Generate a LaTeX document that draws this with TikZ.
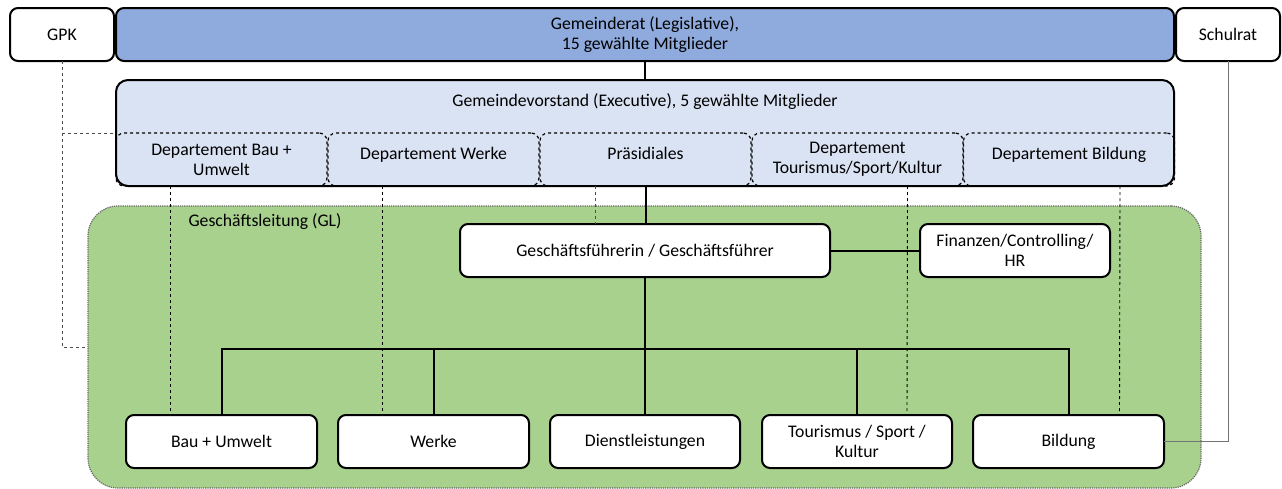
\documentclass[tikz,border=0pt]{standalone}
\usepackage{fontspec}
\setmainfont{Carlito}
\usetikzlibrary{positioning}
\definecolor{ratblue}{HTML}{8FAADC}
\definecolor{vorstblue}{HTML}{DAE3F3}
\definecolor{glgreen}{HTML}{A9D18E}

\begin{document}
\begin{tikzpicture}[%
    x=1pt, y=-1pt,
    font=\fontsize{17.7}{20}\selectfont,
    box/.style={draw, line width=2pt, rounded corners=8pt, fill=white, align=center,
                minimum height=53pt, inner sep=2pt, outer sep=0pt},
    dept/.style={draw, dashed, line width=1.2pt, rounded corners=8pt, align=center,
                 minimum width=211pt, minimum height=53pt, inner sep=2pt, outer sep=0pt},
    link/.style={line width=2pt},
    dep/.style={dashed, line width=0.9pt},
    side/.style={dashed, line width=0.9pt, black!70}
  ]
    \useasboundingbox (0,0) rectangle (1282,488);

    % Geschaeftsleitung area
    \node[draw=black!60, densely dotted, line width=1.2pt, fill=glgreen, rounded corners=30pt,
          minimum width=1113pt, minimum height=282pt, outer sep=0pt] (gl) at (644.5,347) {};
    \node[anchor=west] (gllabel) at (185,222) {Geschäftsleitung (GL)};

    % top row
    \node[box, minimum width=104pt] (gpk) at (62,34.5) {GPK};
    \node[box, fill=ratblue, minimum width=1058pt] (rat) at (645,34.5)
         {Gemeinderat (Legislative),\\15 gewählte Mitglieder};
    \node[box, minimum width=104pt] (schul) at (1228,34.5) {Schulrat};

    % Gemeindevorstand with Departemente
    \node[box, fill=vorstblue, rounded corners=12pt, minimum width=1058pt,
          minimum height=106pt] (gv) at (645,133) {};
    \node (gvlabel) at (645,102) {Gemeindevorstand (Executive), 5 gewählte Mitglieder};
    \node[dept] (dbau) at (221.5,159.5) {Departement Bau +\\Umwelt};
    \node[dept] (dwerke) at (433.5,159.5) {Departement Werke\\[-14pt]\strut};
    \node[dept] (dpraes) at (645.5,159.5) {Präsidiales\\[-14pt]\strut};
    \node[dept] (dtour) at (857.5,159.5) {Departement\\Tourismus/Sport/Kultur};
    \node[dept] (dbild) at (1069,159.5) {Departement Bildung\\[-14pt]\strut};

    % Geschaeftsfuehrung
    \node[box, minimum width=370pt] (gf) at (645,250.5) {Geschäftsführerin / Geschäftsführer};
    \node[box, minimum width=190pt] (fin) at (1015,250.5) {Finanzen/Controlling/\\HR};

    % Bereiche
    \node[box, minimum width=191pt] (bau) at (221.5,441.5) {Bau + Umwelt};
    \node[box, minimum width=191pt] (werke) at (433.5,441.5) {Werke};
    \node[box, minimum width=190pt] (dienst) at (645,441.5) {Dienstleistungen};
    \node[box, minimum width=190pt] (tour) at (857,441.5) {Tourismus / Sport /\\Kultur};
    \node[box, minimum width=191pt] (bild) at (1068.5,441.5) {Bildung};
    \coordinate (bus) at (645,349);

    % solid connectors
    \draw[link] (rat) -- (gv);
    \draw[link] (dpraes.south) -- (gf.north -| dpraes.south);
    \draw[link] (gf) -- (fin);
    \draw[link] (gf.south) -- (dienst.north);
    \draw[link] (bau.north) -- (bau.north |- bus) -- (bild.north |- bus) -- (bild.north);
    \draw[link] (werke.north) -- (werke.north |- bus);
    \draw[link] (tour.north) -- (tour.north |- bus);

    % dashed links Departement -> Bereich
    \draw[dep] ([xshift=-51pt]dbau.south) -- ([xshift=-51pt]bau.north);
    \draw[dep] ([xshift=-51pt]dwerke.south) -- ([xshift=-51pt]werke.north);
    \draw[side] ([xshift=-50pt]dpraes.south) -- ([xshift=-50pt]dpraes.south |- gf.north);
    \draw[dep] ([xshift=50pt]dtour.south) -- ([xshift=50pt]tour.north);
    \draw[dep] ([xshift=51pt]dbild.south) -- ([xshift=51pt]bild.north);

    % GPK and Schulrat
    \draw[side] (gpk.south) |- (gl.west);
    \draw[side] (gpk.south |- dbau.north west) -- (dbau.north west);
    \draw[line width=1pt, black!55] (schul.south) |- (bild.east);
  \end{tikzpicture}
\end{document}
